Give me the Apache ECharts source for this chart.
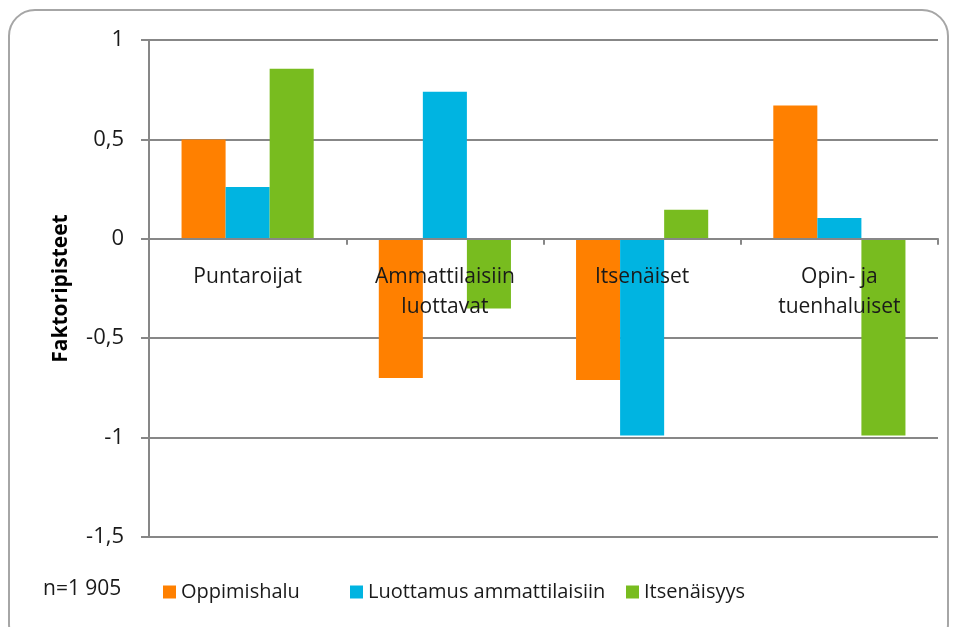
<!DOCTYPE html>
<html>
<head>
<meta charset="utf-8">
<script src="https://cdn.jsdelivr.net/npm/echarts@6/dist/echarts.min.js"></script>
<style>
html,body{margin:0;padding:0;background:#fff;}
#chart{width:957px;height:627px;}
</style>
</head>
<body>
<div id="chart"></div>
<script>
var categories = ['Puntaroijat', 'Ammattilaisiin\nluottavat', 'Itsenäiset', 'Opin- ja\ntuenhaluiset'];
var seriesNames = ['Oppimishalu', 'Luottamus ammattilaisiin', 'Itsenäisyys'];
var oppimishalu = [0.50, -0.70, -0.71, 0.67];
var luottamus = [0.26, 0.74, -0.99, 0.105];
var itsenaisyys = [0.855, -0.35, 0.146, -0.99];
var yTicks = [-1.5, -1, -0.5, 0, 0.5, 1];

var myChart = echarts.init(document.getElementById('chart'));
var fontName = 'Open Sans';
var legendLeft = [158, 345, 621];

function makeLegend(i) {
    return {
        left: legendLeft[i], top: 577,
        itemWidth: 13, itemHeight: 13,
        icon: 'rect',
        textStyle: { fontSize: 20, color: '#1a1a1a', fontFamily: fontName },
        data: [seriesNames[i]]
    };
}

var option = {
    animation: false,
    color: ['#ff8000', '#00b4e1', '#78bc1f'],
    textStyle: { fontFamily: fontName },
    grid: { left: 149, right: 19, top: 40, bottom: 90 },
    graphic: [
        {
            type: 'rect',
            shape: { x: 9, y: 10, width: 939, height: 640, r: 26 },
            style: { fill: 'none', stroke: '#a6a6a6', lineWidth: 2 },
            z: -10
        },
        {
            type: 'text',
            left: 43, top: 579,
            style: { text: 'n=1 905', fontSize: 21, fontFamily: fontName, fill: '#1a1a1a' }
        }
    ],
    legend: [makeLegend(0), makeLegend(1), makeLegend(2)],
    xAxis: {
        type: 'category',
        data: categories,
        z: 5,
        axisLine: { onZero: true, lineStyle: { color: '#878787', width: 2 } },
        axisTick: { show: true, length: 6, lineStyle: { color: '#878787', width: 2 } },
        // labels sit just under the zero line, like the original
        axisLabel: { fontSize: 21, color: '#1a1a1a', margin: -275, lineHeight: 30, interval: 0 }
    },
    yAxis: {
        type: 'value',
        min: -1.5, max: 1, interval: 0.5,
        name: 'Faktoripisteet',
        nameLocation: 'middle',
        nameGap: 77,
        nameRotate: 90,
        nameTextStyle: { fontSize: 21, fontWeight: 'bold', color: '#000', fontFamily: fontName },
        axisLine: { show: true, lineStyle: { color: '#878787', width: 2 } },
        axisTick: { show: true, length: 8, lineStyle: { color: '#878787', width: 2 } },
        splitLine: { lineStyle: { color: '#878787', width: 2 } },
        axisLabel: {
            fontSize: 22, color: '#1a1a1a', margin: 25,
            formatter: function (v) {
                if (yTicks.indexOf(v) < 0) return '';
                return String(v).replace('.', ',');
            }
        }
    },
    series: [
        { name: seriesNames[0], type: 'bar', data: oppimishalu, barGap: '0%', barCategoryGap: '33%' },
        { name: seriesNames[1], type: 'bar', data: luottamus, barGap: '0%', barCategoryGap: '33%' },
        { name: seriesNames[2], type: 'bar', data: itsenaisyys, barGap: '0%', barCategoryGap: '33%' }
    ]
};
myChart.setOption(option);
window.onresize = myChart.resize;
</script>
</body>
</html>
